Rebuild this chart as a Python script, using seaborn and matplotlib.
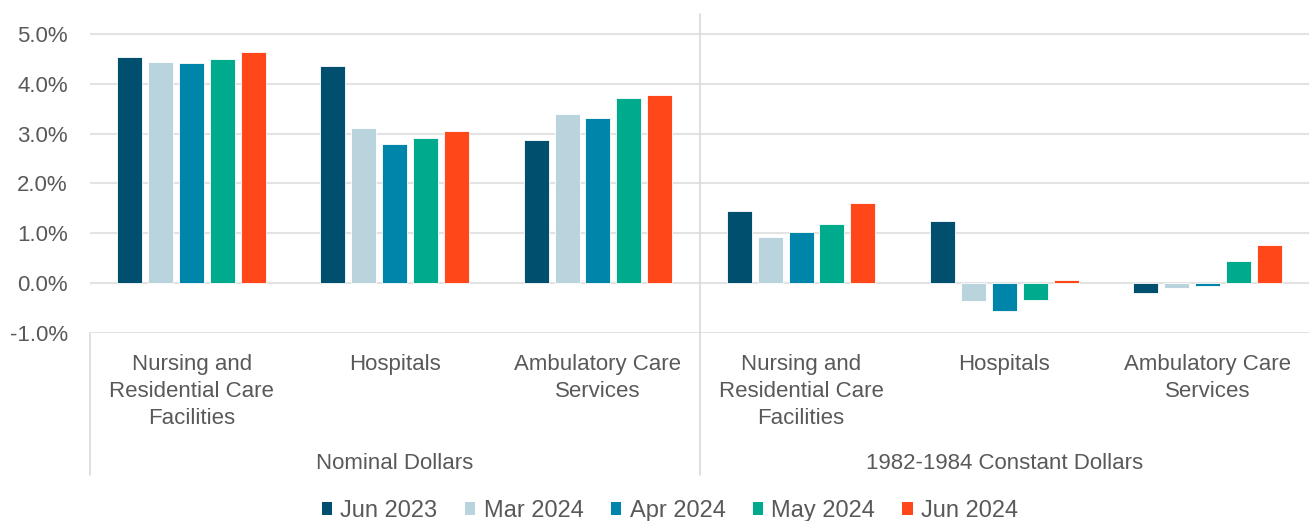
import matplotlib
matplotlib.use("Agg")
import matplotlib.pyplot as plt
import seaborn as sns
import pandas as pd
from matplotlib.patches import Patch

# ---- data ----
groups = ["Nominal Dollars", "1982-1984 Constant Dollars"]
sectors = ["Nursing and\nResidential Care\nFacilities", "Hospitals", "Ambulatory Care\nServices"]
periods = ["Jun 2023", "Mar 2024", "Apr 2024", "May 2024", "Jun 2024"]
colors = ["#004F6F", "#B9D4DC", "#0085AA", "#00AA8C", "#FF471A"]

nominal_jun2023 = [4.54, 4.36, 2.87]
nominal_mar2024 = [4.44, 3.11, 3.40]
nominal_apr2024 = [4.42, 2.79, 3.31]
nominal_may2024 = [4.49, 2.91, 3.71]
nominal_jun2024 = [4.64, 3.05, 3.78]

constant_jun2023 = [1.44, 1.25, -0.19]
constant_mar2024 = [0.92, -0.35, -0.09]
constant_apr2024 = [1.02, -0.55, -0.06]
constant_may2024 = [1.19, -0.34, 0.44]
constant_jun2024 = [1.61, 0.06, 0.77]

series = {
    "Jun 2023": nominal_jun2023 + constant_jun2023,
    "Mar 2024": nominal_mar2024 + constant_mar2024,
    "Apr 2024": nominal_apr2024 + constant_apr2024,
    "May 2024": nominal_may2024 + constant_may2024,
    "Jun 2024": nominal_jun2024 + constant_jun2024,
}
cat_keys = [f"{g}|{s}" for g in groups for s in sectors]
rows = []
for p in periods:
    for k, v in zip(cat_keys, series[p]):
        rows.append({"cat": k, "period": p, "value": v})
df = pd.DataFrame(rows)

# ---- plot ----
sns.set_theme(style="white")
plt.rcParams["font.family"] = ["Liberation Sans", "DejaVu Sans"]
txt = "#595959"

fig = plt.figure(figsize=(13.09, 5.21), dpi=100)
ax = fig.add_axes([90 / 1309, 1 - 333 / 521, 1 - 90 / 1309, 319 / 521])

sns.barplot(data=df, x="cat", y="value", hue="period", order=cat_keys,
            hue_order=periods, palette=colors, width=0.76, gap=0.19,
            saturation=1, edgecolor="white", linewidth=0.6, ax=ax, legend=False, zorder=3)

ax.set_xlim(-0.5, 5.5)
ax.set_ylim(-1, 5.4)
ax.set_yticks([-1, 0, 1, 2, 3, 4, 5])
ax.set_yticklabels([f"{t:.1f}%" for t in [-1, 0, 1, 2, 3, 4, 5]], color=txt, fontsize=16)
ax.tick_params(axis="y", length=0, pad=16)
ax.set_xticks([])
ax.set_xlabel("")
ax.set_ylabel("")
for sp in ax.spines.values():
    sp.set_visible(False)
ax.grid(axis="y", color="#E3E3E3", linewidth=1.5, zorder=0)
ax.set_axisbelow(True)

# category labels
for i, k in enumerate(cat_keys):
    ax.text(i, -1.42, k.split("|")[1], ha="center", va="top", fontsize=16,
            color=txt, linespacing=1.39, clip_on=False)
# group labels
for gi, g in enumerate(groups):
    ax.text(1 + 3 * gi, -3.61, g, ha="center", va="center", fontsize=16,
            color=txt, clip_on=False)
# separators
ax.plot([-0.5, -0.5], [-1, -3.85], color="#D9D9D9", lw=1.2, clip_on=False)
ax.plot([2.5, 2.5], [5.4, -3.85], color="#D9D9D9", lw=1.2, clip_on=False)

handles = [Patch(facecolor=c, edgecolor="none", label=p) for p, c in zip(periods, colors)]
fig.legend(handles=handles, loc="center", bbox_to_anchor=(670 / 1309, 1 - 511 / 521), ncol=5,
           frameon=False, fontsize=17, handlelength=0.45, handleheight=0.45,
           handletextpad=0.35, columnspacing=1.15, labelcolor=txt)

fig.savefig("out.png", dpi=100)
